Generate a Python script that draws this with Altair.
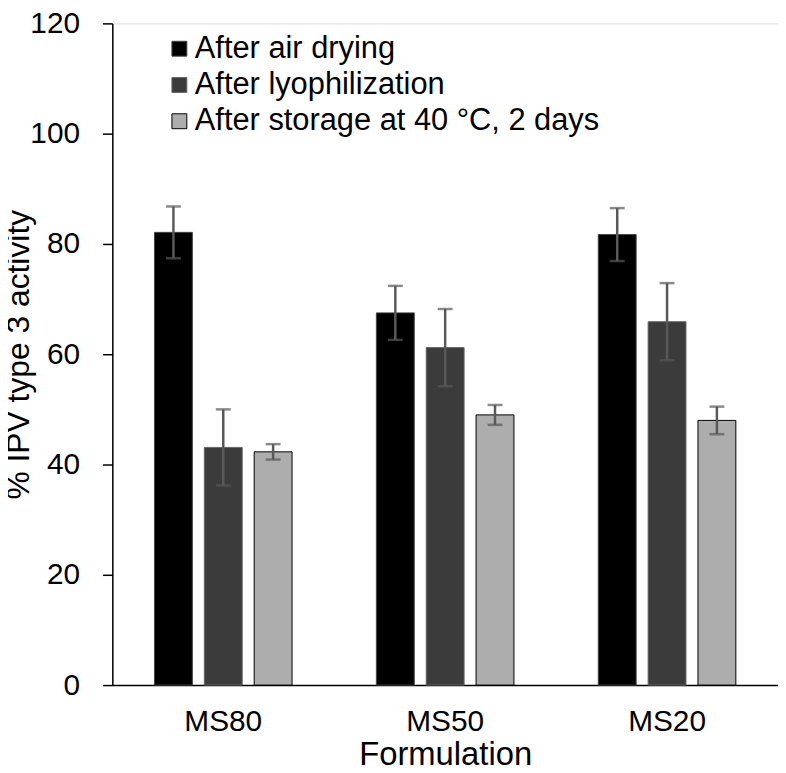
import altair as alt
import pandas as pd

formulations = ["MS80", "MS50", "MS20"]
series = ["After air drying", "After lyophilization", "After storage at 40 °C, 2 days"]
air_drying = [82.1, 67.5, 81.7]
air_drying_err = [4.7, 4.9, 4.8]
lyophilization = [43.1, 61.2, 65.9]
lyophilization_err = [6.9, 7.0, 7.0]
storage = [42.3, 49.0, 48.0]
storage_err = [1.4, 1.8, 2.5]

rows = []
for vals, errs, s in [(air_drying, air_drying_err, series[0]),
                      (lyophilization, lyophilization_err, series[1]),
                      (storage, storage_err, series[2])]:
    for f, v, e in zip(formulations, vals, errs):
        rows.append({"Formulation": f, "series": s, "value": v,
                     "lo": v - e, "hi": v + e})
df = pd.DataFrame(rows)

FONT = "Liberation Sans"

x_enc = alt.X("Formulation:N", sort=formulations,
              scale=alt.Scale(paddingInner=0.38, paddingOuter=0.19),
              axis=alt.Axis(title="Formulation", labelAngle=0, ticks=False,
                            labelFontSize=30, labelPadding=22,
                            titleFontSize=33, titlePadding=2,
                            labelFont=FONT, titleFont=FONT,
                            labelColor="#000", titleColor="#000",
                            titleFontWeight="normal",
                            domainColor="#000", domainWidth=1.5))
xoff = alt.XOffset("series:N", sort=series,
                   scale=alt.Scale(paddingInner=0.24, paddingOuter=0))
y_scale = alt.Scale(domain=[0, 120], nice=False)

bars = alt.Chart(df).mark_bar().encode(
    x=x_enc,
    xOffset=xoff,
    y=alt.Y("value:Q", scale=y_scale,
            axis=alt.Axis(title="% IPV type 3 activity", values=[0, 20, 40, 60, 80, 100, 120],
                          grid=False, tickSize=10, tickColor="#000", tickWidth=1.5,
                          labelFontSize=30, labelPadding=23, titleFontSize=32,
                          titleAngle=-90, titleX=-84, titleY=333,
                          titleAlign="center", titleBaseline="alphabetic",
                          labelFont=FONT, titleFont=FONT,
                          labelColor="#000", titleColor="#000",
                          titleFontWeight="normal",
                          domainColor="#000", domainWidth=1.5)),
    color=alt.Color("series:N", sort=series,
                    scale=alt.Scale(domain=series, range=["#000000", "#3b3b3b", "#adadad"]),
                    legend=alt.Legend(title=None, orient="none", legendX=52, legendY=10,
                                      symbolType="square", symbolSize=225,
                                      symbolStrokeWidth=2,
                                      labelFontSize=31, labelFont=FONT, labelColor="#000",
                                      labelOffset=0, rowPadding=4.5, padding=0,
                                      labelLimit=600)),
    stroke=alt.Stroke("series:N", sort=series,
                      scale=alt.Scale(domain=series, range=["#444444", "#666666", "#000000"]),
                      legend=None),
    strokeWidth=alt.StrokeWidth("series:N", sort=series,
                                scale=alt.Scale(domain=series, range=[1, 1, 2.5]),
                                legend=None),
)

err_rule = alt.Chart(df).mark_rule(color="#595959", strokeWidth=2.5).encode(
    x=alt.X("Formulation:N", sort=formulations),
    xOffset=xoff,
    y=alt.Y("lo:Q", scale=y_scale),
    y2="hi:Q",
)
cap_lo = alt.Chart(df).mark_tick(color="#595959", size=15, thickness=2.5).encode(
    x=alt.X("Formulation:N", sort=formulations),
    xOffset=xoff,
    y=alt.Y("lo:Q", scale=y_scale),
)
cap_hi = alt.Chart(df).mark_tick(color="#595959", size=15, thickness=2.5).encode(
    x=alt.X("Formulation:N", sort=formulations),
    xOffset=xoff,
    y=alt.Y("hi:Q", scale=y_scale),
)

chart = alt.layer(bars, err_rule, cap_lo, cap_hi).properties(
    width=670, height=666,
    autosize=alt.AutoSizeParams(type="none"),
    padding={"left": 105, "top": 13, "right": 0, "bottom": 86},
).configure_view(stroke=None).configure(background="white")

chart.save("out.html", embed_options={"renderer": "svg", "actions": False})
